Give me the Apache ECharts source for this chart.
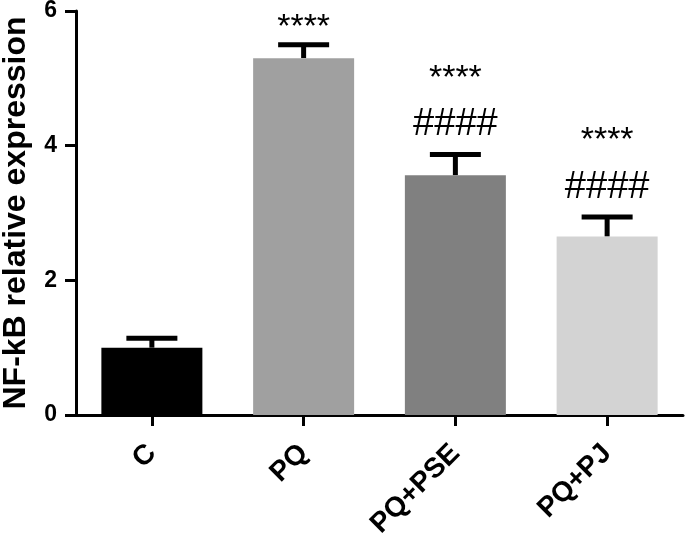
<!DOCTYPE html>
<html><head><meta charset="utf-8">
<script src="https://cdn.jsdelivr.net/npm/echarts@6/dist/echarts.min.js"></script>
<style>html,body{margin:0;padding:0;background:#fff}#c{width:685px;height:542px}</style>
</head><body><div id="c"></div>
<script>
const categories = ['C', 'PQ', 'PQ+PSE', 'PQ+PJ'];
const means = [1.00, 5.30, 3.56, 2.65];
const errorTops = [1.14, 5.50, 3.87, 2.94];
const barColors = ['#000000', '#a0a0a0', '#808080', '#d3d3d3'];
const starLabels = ['', '****', '****', '****'];
const hashLabels = ['', '', '####', '####'];
const yTicks = [0, 2, 4, 6];

const FONT = 'Liberation Sans, Arial, sans-serif';
const chart = echarts.init(document.getElementById('c'), null, {renderer: 'canvas'});

chart.setOption({
  animation: false,
  grid: {left: 76, right: 2, top: 11, bottom: 127, containLabel: false, outerBoundsMode: 'none'},
  xAxis: {
    type: 'category', data: categories,
    axisLine: {lineStyle: {color: '#000', width: 3}},
    axisTick: {show: true, length: 11, lineStyle: {color: '#000', width: 3}, alignWithLabel: true},
    axisLabel: {rotate: 45, margin: 34, color: '#000', fontFamily: FONT, fontWeight: 'bold', fontSize: 28, interval: 0}
  },
  yAxis: {
    type: 'value', min: 0, max: 6, interval: 2,
    name: 'NF-kB relative expression', nameLocation: 'middle', nameGap: 44,
    nameTextStyle: {color: '#000', fontFamily: FONT, fontWeight: 'bold', fontSize: 32},
    axisLine: {show: true, lineStyle: {color: '#000', width: 3}},
    axisTick: {show: true, length: 11, lineStyle: {color: '#000', width: 3}},
    axisLabel: {margin: 19, color: '#000', fontFamily: FONT, fontWeight: 'bold', fontSize: 23,
      formatter: v => yTicks.includes(v) ? String(v) : ''},
    splitLine: {show: false}
  },
  series: [
    {
      type: 'custom', z: 1,
      data: categories.map((c, i) => [i, means[i], errorTops[i]]),
      renderItem: (params, api) => {
        const i = api.value(0);
        const top = api.coord([i, api.value(2)]);
        const base = api.coord([i, api.value(1)]);
        const half = 25.5;
        return {type: 'group', children: [
          {type: 'line', shape: {x1: top[0], y1: top[1], x2: base[0], y2: base[1]}, style: {stroke: '#000', lineWidth: 5}},
          {type: 'line', shape: {x1: top[0] - half, y1: top[1], x2: top[0] + half, y2: top[1]}, style: {stroke: '#000', lineWidth: 5}}
        ]};
      }
    },
    {
      type: 'bar', z: 2, barWidth: 101,
      data: means.map((v, i) => ({value: v, itemStyle: {color: barColors[i]}}))
    },
    {
      type: 'custom', z: 3,
      data: categories.map((c, i) => [i, errorTops[i]]),
      renderItem: (params, api) => {
        const i = api.value(0);
        const p = api.coord([i, api.value(1)]);
        const children = [];
        const hasHash = hashLabels[i] !== '';
        if (hasHash) {
          children.push({type: 'text', style: {text: hashLabels[i], x: p[0], y: p[1] - 30, align: 'center', verticalAlign: 'middle',
            fill: '#000', font: 'normal 38px ' + FONT}});
        }
        if (starLabels[i]) {
          children.push({type: 'text', style: {text: starLabels[i], x: p[0], y: p[1] - (hasHash ? 76 : 17), align: 'center', verticalAlign: 'middle',
            fill: '#000', font: 'normal 34px ' + FONT}});
        }
        return {type: 'group', children};
      }
    }
  ]
});
</script></body></html>
